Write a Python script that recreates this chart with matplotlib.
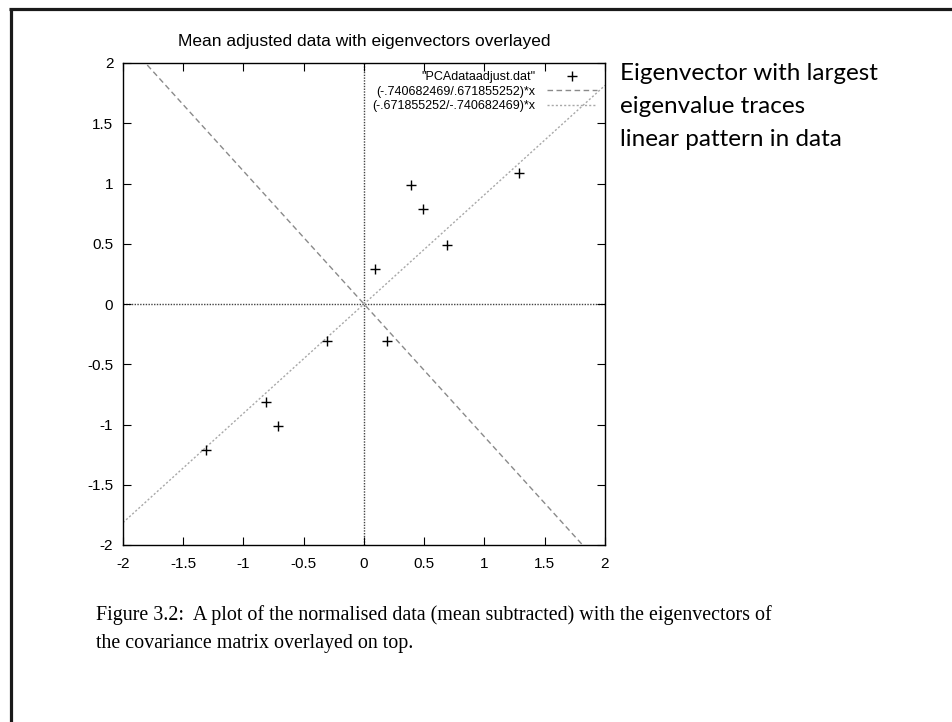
import numpy as np
import matplotlib
matplotlib.use("Agg")
import matplotlib.pyplot as plt
from matplotlib.lines import Line2D
from matplotlib import font_manager

# data (mean adjusted)
x_vals = [0.69, -1.31, 0.39, 0.09, 1.29, 0.49, 0.19, -0.81, -0.31, -0.71]
y_vals = [0.49, -1.21, 0.99, 0.29, 1.09, 0.79, -0.31, -0.81, -0.31, -1.01]
ev1 = (-0.740682469, 0.671855252)
ev2 = (-0.671855252, -0.740682469)
ticks = [-2, -1.5, -1, -0.5, 0, 0.5, 1, 1.5, 2]
tick_labels = ["-2", "-1.5", "-1", "-0.5", "0", "0.5", "1", "1.5", "2"]

title = "Mean adjusted data with eigenvectors overlayed"
label_data = '"PCAdataadjust.dat"'
label_ev1 = "(-.740682469/.671855252)*x"
label_ev2 = "(-.671855252/-.740682469)*x"
note = "Eigenvector with largest\neigenvalue traces\nlinear pattern in data"
caption = ("Figure 3.2:  A plot of the normalised data (mean subtracted) with the eigenvectors of\n"
           "the covariance matrix overlayed on top.")

names = {f.name for f in font_manager.fontManager.ttflist}
narrow = "Liberation Sans Narrow" if "Liberation Sans Narrow" in names else "Liberation Sans"
leg_size = 11 if narrow == "Liberation Sans Narrow" else 9
note_font = "Lato" if "Lato" in names else "Open Sans"

W, H = 953, 722
fig = plt.figure(figsize=(W / 100, H / 100), dpi=100)
fig.patch.set_facecolor("white")

# slide frame
fig.add_artist(Line2D([9 / W, 1], [1 - 8.5 / H, 1 - 8.5 / H], color="#1a1a1a", lw=2.3,
                      transform=fig.transFigure, solid_capstyle="butt"))
fig.add_artist(Line2D([10.5 / W, 10.5 / W], [0, 1 - 7.5 / H], color="#1a1a1a", lw=2.3,
                      transform=fig.transFigure, solid_capstyle="butt"))

L, R, T, B = 123, 605, 63, 545
ax = fig.add_axes([L / W, 1 - B / H, (R - L) / W, (B - T) / H])
ax.set_xlim(-2, 2)
ax.set_ylim(-2, 2)

xs = np.linspace(-2, 2, 201)
ax.axhline(0, color="#444444", lw=1.0, ls=(0, (1, 1)), zorder=1)
ax.axvline(0, color="#444444", lw=1.0, ls=(0, (1, 1)), zorder=1)

ax.plot(x_vals, y_vals, ls="none", marker="+", ms=7, mew=1.0, color="black", label=label_data, zorder=3)
ax.plot(xs, ev1[0] / ev1[1] * xs, color="#8a8a8a", lw=1.0, ls=(0, (4, 2.5)), label=label_ev1, zorder=2)
ax.plot(xs, ev2[0] / ev2[1] * xs, color="#a8a8a8", lw=1.0, ls=(0, (1.5, 1.5)), label=label_ev2, zorder=2)

ax.set_xticks(ticks)
ax.set_xticklabels(tick_labels)
ax.set_yticks(ticks)
ax.set_yticklabels(tick_labels)
ax.tick_params(direction="in", length=6, width=0.8, top=True, right=True,
               labelsize=11, pad=7)
ax.tick_params(axis="x", pad=9)
for lab in ax.get_xticklabels() + ax.get_yticklabels():
    lab.set_family("Liberation Sans")
for s in ax.spines.values():
    s.set_linewidth(1.0)
    s.set_color("black")

ax.set_title(title, fontsize=12.5 if narrow == "Liberation Sans" else 12.2, family="Liberation Sans", pad=12)

leg = ax.legend(loc="upper right", frameon=False, markerfirst=False,
                prop={"family": narrow, "size": leg_size},
                handlelength=4.0, handletextpad=0.9, labelspacing=0.2,
                borderaxespad=0.2, borderpad=0.45)

fig.text(620 / W, 1 - 63 / H, note, ha="left", va="top", fontsize=17.5,
         family=note_font, linespacing=1.72)

fig.text(96 / W, 1 - 605 / H, caption, ha="left", va="top", fontsize=14.4,
         family="Liberation Serif", linespacing=1.68)

fig.savefig("out.png", dpi=100, facecolor="white")
